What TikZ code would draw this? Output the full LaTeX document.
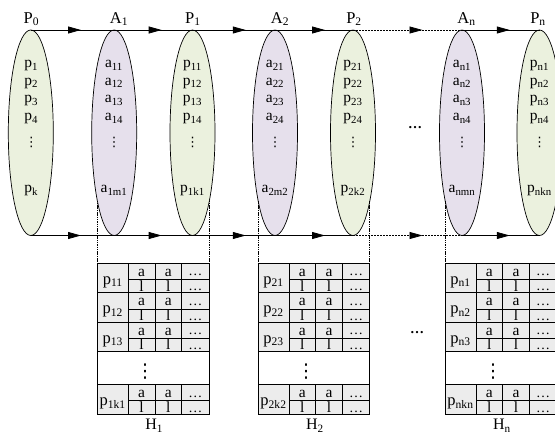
\documentclass[tikz,border=0pt]{standalone}
\usepackage{fontspec}
\setmainfont{Liberation Serif}
\newfontfamily\dvs{DejaVu Sans}
\usetikzlibrary{shapes.geometric,arrows.meta,calc}
\definecolor{pgreen}{HTML}{EBF1DE}
\definecolor{alav}{HTML}{E6E0EC}
\definecolor{tgray}{HTML}{ECECEC}
\newcommand\sbs[1]{\textsubscript{#1}}
\tikzset{
  ell/.style={ellipse, draw, line width=0.7pt, minimum width=45pt, minimum height=205.5pt, inner sep=0pt, outer sep=0pt},
  pell/.style={ell, fill=pgreen},
  aell/.style={ell, fill=alav},
  lab/.style={font=\fontsize{16.5}{19}\selectfont, inner sep=0pt, anchor=base},
  hlab/.style={font=\fontsize{16}{18}\selectfont, inner sep=0pt, anchor=base},
  ct/.style={font=\fontsize{15.5}{18}\selectfont, inner sep=0pt, anchor=base},
  cvd/.style={font=\dvs\fontsize{13}{14}\selectfont, inner sep=0pt},
  conn/.style={line width=0.8pt},
  arr/.style={line width=0.8pt, -{Triangle[length=13pt,width=7pt]}},
  dconn/.style={line width=0.8pt, dash pattern=on 2pt off 1pt},
  darr/.style={dconn, -{Triangle[length=13pt,width=7pt]}},
  dotln/.style={line width=0.9pt, dash pattern=on 1.5pt off 0.8pt},
  tcell/.style={fill=tgray, draw, line width=0.6pt},
  tline/.style={draw, line width=0.6pt},
  tmid/.style={draw, line width=1pt},
  plab/.style={font=\fontsize{16.5}{19}\selectfont, inner sep=0pt, anchor=base},
  tt/.style={font=\fontsize{15.5}{18}\selectfont, inner sep=0pt, anchor=base},
  tdots/.style={font=\fontsize{14}{16}\selectfont, inner sep=0pt, anchor=base},
  tvd/.style={font=\dvs\fontsize{19}{20}\selectfont, inner sep=0pt},
  gap/.style={font=\fontsize{14}{16}\selectfont\bfseries, inner sep=0pt},
}
% content of one ellipse
\newcommand\ellc[7]{%
  \node[ct] (#1c1) at (#2,68) {#3};
  \node[ct] (#1c2) at (#2,85.5) {#4};
  \node[ct] (#1c3) at (#2,103) {#5};
  \node[ct] (#1c4) at (#2,121) {#6};
  \node[cvd] (#1cv) at (#2,142) {⋮};
  \node[ct] (#1c5) at (#2,193) {#7};
}
% one group of rows of a table
\newcommand\hgroup[3]{%
  \filldraw[tcell] (0,#2) rectangle (111.7,#2+29.4);
  \draw[tline] (31,#2) -- (31,#2+29.4);
  \draw[tline] (57.7,#2) -- (57.7,#2+29.4);
  \draw[tline] (84.4,#2) -- (84.4,#2+29.4);
  \draw[tmid] (31,#2+16.3) -- (111.7,#2+16.3);
  \node[plab] (#1p) at (15.5,#2+21) {#3};
  \node[tt] (#1a1) at (44.35,#2+13.2) {a};
  \node[tt] (#1a2) at (71.05,#2+13.2) {a};
  \node[tdots] (#1e1) at (98.05,#2+12.5) {…};
  \node[tt] (#1l1) at (44.35,#2+27.8) {l};
  \node[tt] (#1l2) at (71.05,#2+27.8) {l};
  \node[tdots] (#1e2) at (98.05,#2+27.5) {…};
}
% a whole table
\newcommand\htab[7]{%
  \begin{scope}[shift={(#2,263.3)}]
    \coordinate (#1tl) at (0,0);
    \coordinate (#1tr) at (111.7,0);
    \hgroup{#1a}{0}{#3}
    \hgroup{#1b}{29.4}{#4}
    \hgroup{#1c}{58.8}{#5}
    \draw[tline] (0,88.2) rectangle (111.7,121.2);
    \node[tvd] (#1d) at (48,108) {⋮};
    \hgroup{#1e}{121.2}{#6}
    \node[hlab] (#1) at (57,166.2) {#7};
  \end{scope}
}
\begin{document}
\begin{tikzpicture}[x=1pt,y=-1pt]
\useasboundingbox (0,0) rectangle (555,433);
% ellipses
\node[pell] (P0) at (30.8,132.75) {};
\node[aell] (A1) at (114.2,132.75) {};
\node[pell] (P1) at (192.5,132.75) {};
\node[aell] (A2) at (275,132.75) {};
\node[pell] (P2) at (353,132.75) {};
\node[aell] (An) at (462,132.75) {};
\node[pell] (Pn) at (539.5,132.75) {};
% labels
\node[lab] (lP0) at (31.3,23.3) {P\sbs{0}};
\node[lab] (lA1) at (119,23.3) {A\sbs{1}};
\node[lab] (lP1) at (192.8,23.3) {P\sbs{1}};
\node[lab] (lA2) at (280,23.3) {A\sbs{2}};
\node[lab] (lP2) at (354,23.3) {P\sbs{2}};
\node[lab] (lAn) at (466.5,23.3) {A\sbs{n}};
\node[lab] (lPn) at (538,23.3) {P\sbs{n}};
% contents
\ellc{P0}{31.3}{p\sbs{1}}{p\sbs{2}}{p\sbs{3}}{p\sbs{4}}{p\sbs{k}}
\ellc{A1}{114}{a\sbs{11}}{a\sbs{12}}{a\sbs{13}}{a\sbs{14}}{a\sbs{1m1}}
\ellc{P1}{192.5}{p\sbs{11}}{p\sbs{12}}{p\sbs{13}}{p\sbs{14}}{p\sbs{1k1}}
\ellc{A2}{275}{a\sbs{21}}{a\sbs{22}}{a\sbs{23}}{a\sbs{24}}{a\sbs{2m2}}
\ellc{P2}{353}{p\sbs{21}}{p\sbs{22}}{p\sbs{23}}{p\sbs{24}}{p\sbs{2k2}}
\ellc{An}{462}{a\sbs{n1}}{a\sbs{n2}}{a\sbs{n3}}{a\sbs{n4}}{a\sbs{nmn}}
\ellc{Pn}{539.5}{p\sbs{n1}}{p\sbs{n2}}{p\sbs{n3}}{p\sbs{n4}}{p\sbs{nkn}}
\node[gap] (gapE) at (415,128) {…};
% connectors, top and bottom
\foreach \a/\b/\o in {P0/A1/8.5, A1/P1/8.3, P1/A2/12, A2/P2/11, An/Pn/9}{
  \draw[conn] (\a.north) -- (\b.north);
  \draw[arr] (\a.north) -- ($(\a.north)!0.5!(\b.north)+(\o,0)$);
  \draw[conn] (\a.south) -- (\b.south);
  \draw[arr] (\a.south) -- ($(\a.south)!0.5!(\b.south)+(\o,0)$);
}
\draw[dconn] (P2.north) -- (An.north);
\draw[darr] (P2.north) -- ($(P2.north)!0.5!(An.north)+(15,0)$);
\draw[dconn] (P2.south) -- (An.south);
\draw[darr] (P2.south) -- ($(P2.south)!0.5!(An.south)+(15,0)$);
% tables
\htab{H1}{97.2}{p\sbs{11}}{p\sbs{12}}{p\sbs{13}}{p\sbs{1k1}}{H\sbs{1}}
\htab{H2}{258}{p\sbs{21}}{p\sbs{22}}{p\sbs{23}}{p\sbs{2k2}}{H\sbs{2}}
\htab{Hn}{445}{p\sbs{n1}}{p\sbs{n2}}{p\sbs{n3}}{p\sbs{nkn}}{H\sbs{n}}
\node[gap] (gapH) at (417,333) {…};
% dotted guide lines
\draw[dotln] (A1.256) -- (A1.256 |- H1tl);
\draw[dotln] (P1.284) -- (P1.284 |- H1tr);
\draw[dotln] (A2.256) -- (A2.256 |- H2tl);
\draw[dotln] (P2.284) -- (P2.284 |- H2tr);
\draw[dotln] (An.256) -- (An.256 |- Hntl);
\draw[dotln] (Pn.284) -- (Pn.284 |- Hntr);
\end{tikzpicture}
\end{document}
